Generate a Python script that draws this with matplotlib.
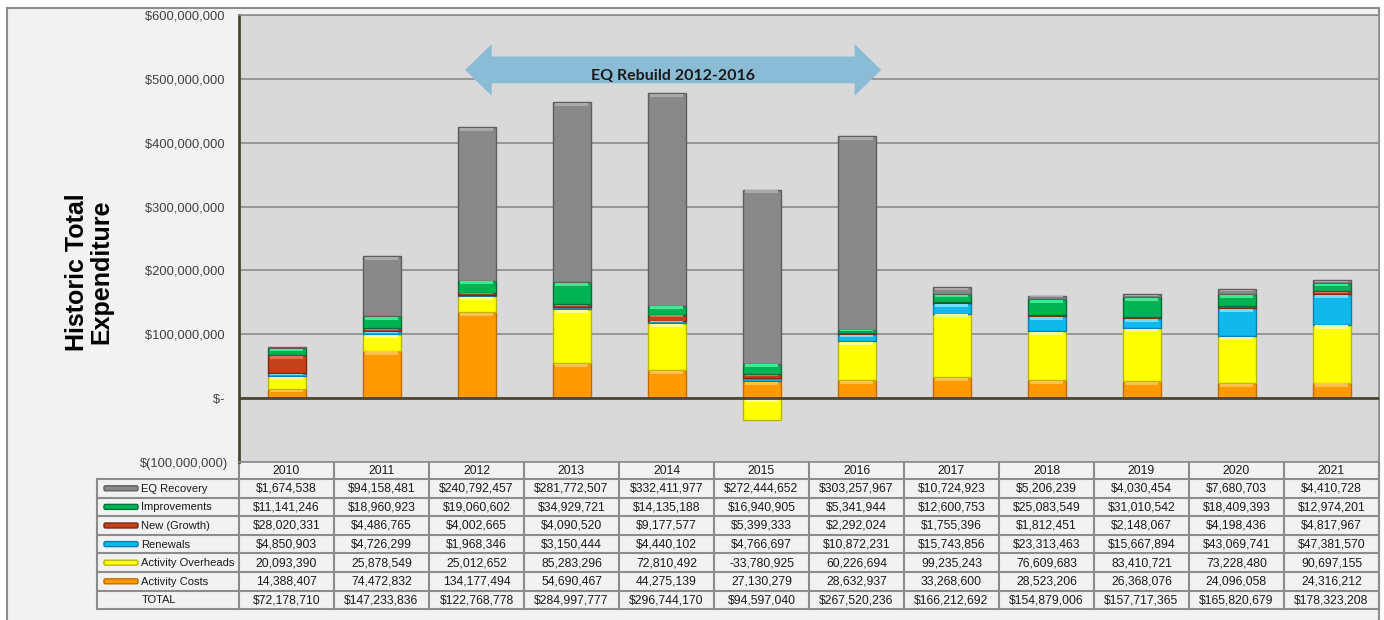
import matplotlib.pyplot as plt
from matplotlib.patches import Rectangle, FancyBboxPatch, FancyArrow
from matplotlib.ticker import FuncFormatter

plt.rcParams['font.family'] = ['Liberation Sans', 'DejaVu Sans']

years = ["2010", "2011", "2012", "2013", "2014", "2015", "2016",
         "2017", "2018", "2019", "2020", "2021"]

activity_costs = [14388407, 74472832, 134177494, 54690467, 44275139, 27130279,
                  28632937, 33268600, 28523206, 26368076, 24096058, 24316212]
activity_overheads = [20093390, 25878549, 25012652, 85283296, 72810492, -33780925,
                      60226694, 99235243, 76609683, 83410721, 73228480, 90697155]
renewals = [4850903, 4726299, 1968346, 3150444, 4440102, 4766697,
            10872231, 15743856, 23313463, 15667894, 43069741, 47381570]
new_growth = [28020331, 4486765, 4002665, 4090520, 9177577, 5399333,
              2292024, 1755396, 1812451, 2148067, 4198436, 4817967]
improvements = [11141246, 18960923, 19060602, 34929721, 14135188, 16940905,
                5341944, 12600753, 25083549, 31010542, 18409393, 12974201]
eq_recovery = [1674538, 94158481, 240792457, 281772507, 332411977, 272444652,
               303257967, 10724923, 5206239, 4030454, 7680703, 4410728]
totals = [72178710, 147233836, 122768778, 284997777, 296744170, 94597040,
          267520236, 166212692, 154879006, 157717365, 165820679, 178323208]

# stacking order bottom -> top
stack_names = ["Activity Costs", "Activity Overheads", "Renewals",
               "New (Growth)", "Improvements", "EQ Recovery"]
stack_values = [activity_costs, activity_overheads, renewals,
                new_growth, improvements, eq_recovery]
fills = ["#ff9900", "#ffff00", "#10b8ec", "#c3421c", "#00b352", "#898989"]
edges = ["#c06a00", "#b8b800", "#0a7fb0", "#7e2a10", "#00703a", "#5e5e5e"]
highlights = ["#ffc050", "#ffff90", "#70dcff", "#e07050", "#40e890", "#aaaaaa"]

# table rows, top -> bottom
table_order = [5, 4, 3, 2, 1, 0]
dollar_rows = {"EQ Recovery", "Improvements", "New (Growth)", "Renewals"}

# ---- layout in pixels ----
W, H = 1384, 620
PLOT_L, PLOT_R, PLOT_T, PLOT_B = 239, 1379, 15, 462
TAB_L = 97
HEAD_H = 17
ROW_H = 18.6

fig = plt.figure(figsize=(W / 100, H / 100), dpi=100)
fig.patch.set_facecolor("white")

# background / table layer in pixel coordinates
bg = fig.add_axes([0, 0, 1, 1], zorder=-1)
bg.set_xlim(0, W)
bg.set_ylim(H, 0)
bg.axis("off")
bg.add_patch(Rectangle((7, 8), PLOT_R - 7, H, facecolor="#f2f2f2",
                       edgecolor="#8c8c8c", lw=1.5))

ax = fig.add_axes([PLOT_L / W, 1 - PLOT_B / H,
                   (PLOT_R - PLOT_L) / W, (PLOT_B - PLOT_T) / H])
ax.set_facecolor("#d9d9d9")
n = len(years)
x = list(range(n))
ax.set_xlim(-0.5, n - 0.5)
ax.set_ylim(-100e6, 600e6)
ax.set_yticks([i * 100e6 for i in range(-1, 7)])


def money(v, pos):
    if v == 0:
        return "$- "
    if v < 0:
        return "$({:,.0f})".format(-v)
    return "${:,.0f} ".format(v)


ax.yaxis.set_major_formatter(FuncFormatter(money))
ax.tick_params(axis="y", length=0, pad=8, labelsize=9.3, labelcolor="#404040")
ax.set_xticks([])
ax.grid(axis="y", color="#8c8c8c", lw=1.2)
ax.set_axisbelow(True)
for side in ["top", "right", "bottom"]:
    ax.spines[side].set_color("#8c8c8c")
    ax.spines[side].set_linewidth(1.2)
ax.spines["left"].set_color("#4a4632")
ax.spines["left"].set_linewidth(2)
ax.axhline(0, color="#4a4632", lw=2, zorder=4)

# stacked bars (negatives stack downward from zero, like Excel)
bar_w = 0.4
pos_bottom = [0.0] * n
neg_bottom = [0.0] * n
for vals, fc, ec, hc in zip(stack_values, fills, edges, highlights):
    bottoms = []
    for i, v in enumerate(vals):
        if v >= 0:
            bottoms.append(pos_bottom[i])
            pos_bottom[i] += v
        else:
            bottoms.append(neg_bottom[i])
            neg_bottom[i] += v
    ax.bar(x, vals, bottom=bottoms, width=bar_w, color=fc,
           edgecolor=ec, linewidth=1.0, zorder=3)
    # bevel highlight at the top of each segment
    for i, v in enumerate(vals):
        top = bottoms[i] + v if v >= 0 else bottoms[i]
        band = min(5e6, abs(v) * 0.3)
        if abs(v) > 3e6:
            ax.bar(x[i], -band, bottom=top - 1.2e6, width=bar_w * 0.86,
                   color=hc, linewidth=0, zorder=3.5)

# EQ rebuild double arrow
arrow_l, arrow_r, arrow_y = 1.88, 6.26, 514e6
mid = (arrow_l + arrow_r) / 2
for end in (arrow_l, arrow_r):
    ax.add_patch(FancyArrow(mid, arrow_y, end - mid, 0, width=42e6,
                            head_width=81e6, head_length=0.28,
                            length_includes_head=True, color="#8bbcd6",
                            lw=0, zorder=5))
ax.text(4.07, 505e6, "EQ Rebuild 2012-2016", ha="center", va="center",
        fontsize=11.5, fontweight="bold", family=["Lato", "DejaVu Sans"],
        color="#1a1a1a", zorder=6)

# y-axis title
bg.text(89, 272, "Historic Total\nExpenditure", rotation=90, ha="center",
        va="center", fontsize=18, fontweight="bold", linespacing=1.0,
        color="black")

# ---- data table ----
col_w = (PLOT_R - PLOT_L) / n
line_c = "#8c8c8c"
tab_bottom = PLOT_B + HEAD_H + ROW_H * 7
cell_fs = 8.7
label_fs = 8.0

# header row with years
for i, yr in enumerate(years):
    cx = PLOT_L + (i + 0.5) * col_w
    bg.text(cx, PLOT_B + HEAD_H / 2 + 0.5, yr, ha="center", va="center",
            fontsize=cell_fs, color="#1a1a1a")
for i in range(n + 1):
    xx = PLOT_L + i * col_w
    bg.plot([xx, xx], [PLOT_B, tab_bottom], color=line_c, lw=1.5)
bg.plot([TAB_L, TAB_L], [PLOT_B + HEAD_H, tab_bottom], color=line_c, lw=1.5)
for r in range(0, 8):
    yy = PLOT_B + HEAD_H + r * ROW_H
    bg.plot([TAB_L, PLOT_R], [yy, yy], color=line_c, lw=1.5)

for r, k in enumerate(table_order):
    cy = PLOT_B + HEAD_H + (r + 0.5) * ROW_H
    name = stack_names[k]
    bg.add_patch(FancyBboxPatch((104, cy - 2.5), 34, 5,
                                boxstyle="round,pad=0,rounding_size=1.5",
                                facecolor=fills[k], edgecolor=edges[k], lw=1.0))
    bg.text(141, cy + 0.5, name, ha="left", va="center", fontsize=label_fs,
            color="#1a1a1a")
    for i, v in enumerate(stack_values[k]):
        if name in dollar_rows:
            s = "${:,}".format(v)
        else:
            s = "{:,}".format(v)
        bg.text(PLOT_L + (i + 0.5) * col_w, cy + 0.5, s, ha="center",
                va="center", fontsize=cell_fs, color="#1a1a1a")

cy = PLOT_B + HEAD_H + 6.5 * ROW_H
bg.text(142, cy + 0.5, "TOTAL", ha="left", va="center", fontsize=label_fs,
        color="#1a1a1a")
for i, v in enumerate(totals):
    bg.text(PLOT_L + (i + 0.5) * col_w, cy + 0.5, "${:,}".format(v),
            ha="center", va="center", fontsize=cell_fs, color="#1a1a1a")

fig.savefig("out.png", dpi=100, facecolor=fig.get_facecolor())
